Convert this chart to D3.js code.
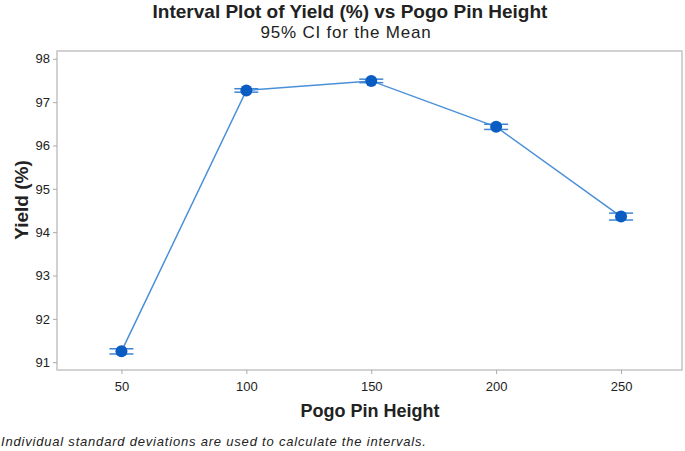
<!DOCTYPE html>
<html>
<head>
<meta charset="utf-8">
<script src="https://cdn.jsdelivr.net/npm/d3@7"></script>
<style>
  body { margin: 0; background: #fff; }
  svg text { font-family: "Liberation Sans", Arial, sans-serif; fill: #222; }
</style>
</head>
<body>
<div id="chart"></div>
<script>
// data
const heights = [50, 100, 150, 200, 250];
const means = [91.25, 97.27, 97.49, 96.43, 94.36];
const ciLow = [91.19, 97.23, 97.45, 96.37, 94.28];
const ciHigh = [91.31, 97.31, 97.53, 96.49, 94.44];
const xTicks = [50, 100, 150, 200, 250];
const yTicks = [91, 92, 93, 94, 95, 96, 97, 98];

const W = 685, H = 451;
const margin = { top: 51, right: 3, bottom: 81, left: 57 };
const innerW = W - margin.left - margin.right;
const innerH = H - margin.top - margin.bottom;

const svg = d3.select("#chart").append("svg")
    .attr("width", W).attr("height", H);

const x = d3.scaleLinear().domain([24.2, 274.4]).range([0, innerW]);
const y = d3.scaleLinear().domain([90.82, 98.18]).range([innerH, 0]);

const g = svg.append("g").attr("transform", `translate(${margin.left},${margin.top})`);

// frame
g.append("rect")
    .attr("width", innerW).attr("height", innerH)
    .attr("fill", "none").attr("stroke", "#c4c4c4").attr("stroke-width", 1.5);

// axes
const yAxis = g.append("g")
    .call(d3.axisLeft(y).tickValues(yTicks).tickSize(4).tickPadding(3).tickSizeOuter(0));
const xAxis = g.append("g")
    .attr("transform", `translate(0,${innerH})`)
    .call(d3.axisBottom(x).tickValues(xTicks).tickSize(4).tickPadding(8).tickSizeOuter(0));
[yAxis, xAxis].forEach(a => {
    a.select(".domain").remove();
    a.selectAll(".tick line").attr("stroke", "#aaa");
    a.selectAll("text").style("font-size", "13px").attr("fill", "#222");
});

const pts = heights.map((h, i) => ({ h, m: means[i], lo: ciLow[i], hi: ciHigh[i] }));

// connect line
g.append("path")
    .datum(pts)
    .attr("fill", "none")
    .attr("stroke", "#4a90d9")
    .attr("stroke-width", 1.5)
    .attr("d", d3.line().x(d => x(d.h)).y(d => y(d.m)));

// intervals
const iv = g.selectAll(".iv").data(pts).join("g").attr("class", "iv");
iv.append("line")
    .attr("x1", d => x(d.h)).attr("x2", d => x(d.h))
    .attr("y1", d => y(d.lo)).attr("y2", d => y(d.hi))
    .attr("stroke", "#3d85d6").attr("stroke-width", 1.5);
iv.selectAll(".cap").data(d => [[d.h, d.lo], [d.h, d.hi]]).join("line")
    .attr("class", "cap")
    .attr("x1", d => x(d[0]) - 12).attr("x2", d => x(d[0]) + 12)
    .attr("y1", d => y(d[1])).attr("y2", d => y(d[1]))
    .attr("stroke", "#3d85d6").attr("stroke-width", 1.5);
iv.append("circle")
    .attr("cx", d => x(d.h)).attr("cy", d => y(d.m))
    .attr("r", 6).attr("fill", "#0a5cc2");

// titles
svg.append("text").attr("x", 350).attr("y", 18)
    .attr("text-anchor", "middle").style("font-size", "19px").style("font-weight", "bold")
    .text("Interval Plot of Yield (%) vs Pogo Pin Height");
svg.append("text").attr("x", 346).attr("y", 38)
    .attr("text-anchor", "middle").style("font-size", "17px").style("letter-spacing", "0.8px")
    .text("95% CI for the Mean");
svg.append("text").attr("x", 370).attr("y", 417)
    .attr("text-anchor", "middle").style("font-size", "18px").style("font-weight", "bold")
    .text("Pogo Pin Height");
svg.append("text")
    .attr("transform", "translate(28,200) rotate(-90)")
    .attr("text-anchor", "middle").style("font-size", "19px").style("font-weight", "bold")
    .text("Yield (%)");
svg.append("text").attr("x", 1).attr("y", 446)
    .style("font-size", "13px").style("font-style", "italic").style("letter-spacing", "0.8px")
    .text("Individual standard deviations are used to calculate the intervals.");
</script>
</body>
</html>
